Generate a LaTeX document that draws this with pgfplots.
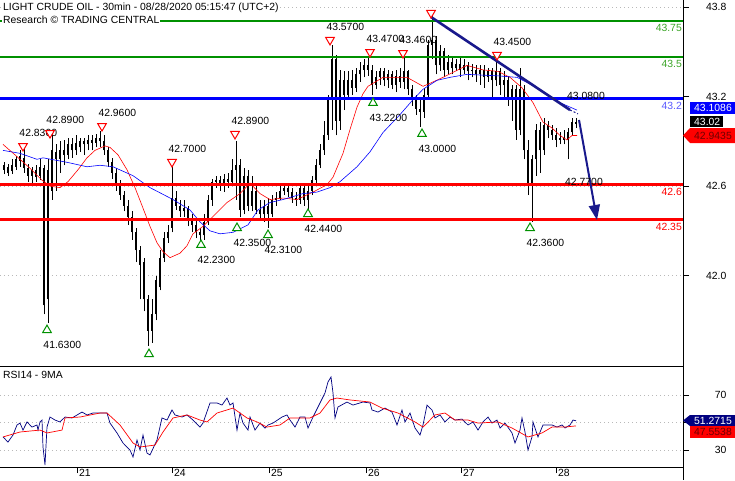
\documentclass[border=0pt]{standalone}
\usepackage{pgfplots}
\pgfplotsset{compat=1.18}
\usepackage{pgfplotstable}
\usepackage{fontspec}
\setmainfont{Liberation Sans}
\usetikzlibrary{arrows.meta}

\definecolor{lvgreen}{RGB}{0,145,0}
\definecolor{lvgreentxt}{RGB}{60,165,40}
\definecolor{lvblue}{RGB}{0,0,255}
\definecolor{lvbluetxt}{RGB}{90,90,255}
\definecolor{lvred}{RGB}{255,0,0}
\definecolor{trendnavy}{RGB}{25,25,140}
\definecolor{rsinavy}{RGB}{0,0,128}
\definecolor{gridgray}{RGB}{185,185,185}
\definecolor{darkred}{RGB}{110,0,0}

% 30min candles (every other bar), open high low close
\pgfplotstableread{
x o h l c
4 42.71 42.76 42.68 42.74
8 42.73 42.75 42.67 42.69
12 42.70 42.78 42.68 42.74
16 42.73 42.80 42.71 42.78
20 42.77 42.84 42.73 42.80
24 42.79 42.86 42.69 42.72
28 42.72 42.75 42.63 42.67
32 42.67 42.73 42.61 42.71
36 42.71 42.74 42.63 42.66
40 42.67 42.78 42.64 42.73
44 42.72 42.74 41.74 41.80
48 41.84 42.78 41.68 42.71
52 42.57 42.96 42.51 42.84
56 42.83 42.88 42.57 42.78
60 42.78 42.90 42.69 42.84
64 42.84 42.91 42.74 42.81
68 42.81 42.92 42.78 42.88
72 42.88 42.92 42.79 42.84
76 42.84 42.94 42.81 42.89
80 42.86 42.92 42.83 42.90
84 42.90 42.92 42.81 42.88
88 42.88 42.94 42.84 42.91
92 42.91 42.94 42.84 42.89
96 42.89 42.95 42.86 42.92
100 42.92 42.97 42.86 42.90
104 42.90 42.94 42.81 42.84
108 42.84 42.86 42.73 42.76
112 42.76 42.79 42.65 42.69
116 42.69 42.72 42.57 42.61
120 42.61 42.64 42.51 42.54
124 42.54 42.57 42.43 42.47
128 42.47 42.51 42.34 42.39
132 42.39 42.43 42.24 42.29
136 42.29 42.32 42.09 42.17
140 42.17 42.20 41.84 42.07
144 42.09 42.12 41.76 41.84
148 41.84 41.87 41.53 41.63
152 41.63 41.84 41.55 41.74
156 41.74 42.00 41.70 41.97
160 41.92 42.17 41.90 42.12
164 42.12 42.29 42.09 42.25
168 42.25 42.34 42.22 42.29
172 42.32 42.76 42.29 42.52
176 42.52 42.57 42.44 42.47
180 42.47 42.51 42.39 42.43
184 42.43 42.51 42.39 42.45
188 42.45 42.47 42.33 42.37
192 42.37 42.41 42.29 42.34
196 42.34 42.37 42.25 42.29
200 42.29 42.32 42.23 42.27
204 42.27 42.41 42.24 42.36
208 42.36 42.54 42.34 42.51
212 42.51 42.65 42.47 42.63
216 42.63 42.67 42.59 42.64
220 42.64 42.67 42.57 42.61
224 42.61 42.68 42.56 42.65
228 42.65 42.69 42.59 42.63
232 42.63 42.78 42.60 42.71
236 42.71 42.90 42.51 42.74
240 42.74 42.78 42.39 42.44
244 42.44 42.72 42.41 42.67
248 42.67 42.71 42.43 42.47
252 42.47 42.67 42.43 42.57
256 42.57 42.61 42.41 42.44
260 42.44 42.51 42.37 42.41
264 42.41 42.51 42.36 42.47
268 42.47 42.52 42.32 42.41
272 42.41 42.54 42.39 42.51
276 42.51 42.56 42.47 42.52
280 42.52 42.60 42.51 42.57
284 42.57 42.61 42.54 42.59
288 42.59 42.61 42.53 42.56
292 42.56 42.59 42.49 42.52
296 42.52 42.56 42.47 42.51
300 42.51 42.61 42.48 42.59
304 42.59 42.61 42.47 42.51
308 42.51 42.61 42.44 42.57
312 42.57 42.67 42.54 42.64
316 42.64 42.78 42.61 42.74
320 42.74 42.88 42.72 42.84
324 42.84 43.04 42.81 42.94
328 42.94 43.21 42.91 43.18
332 43.18 43.55 42.98 43.45
336 43.45 43.48 42.94 43.04
340 43.04 43.38 42.98 43.31
344 43.31 43.37 43.11 43.21
348 43.21 43.37 43.18 43.31
352 43.31 43.38 43.21 43.26
356 43.26 43.39 43.23 43.35
360 43.35 43.43 43.30 43.38
364 43.38 43.45 43.33 43.41
368 43.41 43.47 43.34 43.38
372 43.38 43.41 43.21 43.28
376 43.28 43.37 43.25 43.33
380 43.33 43.39 43.28 43.37
384 43.37 43.39 43.27 43.31
388 43.31 43.38 43.26 43.35
392 43.35 43.37 43.25 43.28
396 43.28 43.38 43.23 43.34
400 43.34 43.39 43.26 43.30
404 43.30 43.46 43.25 43.37
408 43.37 43.38 43.21 43.25
412 43.25 43.28 43.14 43.18
416 43.18 43.21 43.08 43.12
420 43.12 43.18 43.00 43.10
424 43.10 43.26 43.06 43.21
428 43.21 43.58 43.18 43.55
432 43.55 43.74 43.45 43.58
436 43.58 43.61 43.35 43.41
440 43.41 43.55 43.37 43.51
444 43.51 43.53 43.33 43.38
448 43.38 43.48 43.35 43.43
452 43.43 43.46 43.35 43.39
456 43.39 43.45 43.37 43.42
460 43.42 43.46 43.33 43.38
464 43.38 43.45 43.35 43.41
468 43.41 43.43 43.31 43.37
472 43.37 43.42 43.33 43.38
476 43.38 43.41 43.30 43.35
480 43.35 43.41 43.28 43.38
484 43.38 43.41 43.26 43.33
488 43.33 43.39 43.30 43.37
492 43.37 43.39 43.18 43.31
496 43.31 43.45 43.27 43.37
500 43.37 43.39 43.21 43.28
504 43.28 43.37 43.18 43.31
508 43.31 43.34 43.14 43.18
512 43.18 43.28 43.04 43.25
516 43.25 43.28 42.91 42.98
520 42.98 43.39 42.94 43.25
524 43.25 43.28 42.78 42.84
528 42.84 42.91 42.54 42.61
532 42.61 42.81 42.36 42.78
536 42.78 43.02 42.67 42.98
540 42.98 43.03 42.69 42.84
544 42.84 43.06 42.81 43.01
548 43.01 43.04 42.92 42.98
552 42.98 43.01 42.91 42.94
556 42.94 42.99 42.86 42.91
560 42.91 42.96 42.88 42.92
564 42.92 42.98 42.88 42.91
568 42.91 42.99 42.78 42.96
572 42.96 43.06 42.94 43.03
576 43.03 43.06 42.99 43.02
}\candles

\begin{document}
\fontsize{10.4}{12.5}\selectfont
\begin{tikzpicture}[x=1pt,y=-1pt]
\path[use as bounding box] (0,0) rectangle (735,480);

% ---------- price panel ----------
\begin{axis}[
  at={(0pt,0pt)}, anchor=north west,
  width=683pt, height=366pt, scale only axis,
  xmin=0, xmax=683, ymin=41.393, ymax=43.849,
  axis x line*=bottom, axis y line*=right,
  axis line style={black, line width=0.8pt},
  xtick=\empty,
  ytick={42.0,42.6,43.2,43.8}, yticklabels={42.0,42.6,43.2,43.8},
  tick align=outside, major tick length=6pt,
  tick style={black, line width=0.8pt},
  yticklabel style={anchor=east, xshift=41pt},
  ymajorgrids, grid style={gridgray, dash pattern=on 1pt off 3pt},
]
% candle wicks
\addplot[draw=none, mark=none, forget plot,
  error bars/.cd, y dir=plus, y explicit, error mark=none,
  error bar style={draw=black, line width=0.7pt}]
  table[x=x, y=l, y error plus expr={\thisrow{h}-\thisrow{l}}] {\candles};
% candle bodies
\addplot[draw=none, mark=none, forget plot,
  error bars/.cd, y dir=plus, y explicit, error mark=none,
  error bar style={draw=black, line width=2.8pt}]
  table[x=x, y expr={min(\thisrow{o},\thisrow{c})},
        y error plus expr={max(abs(\thisrow{o}-\thisrow{c}),0.006)}] {\candles};

% moving averages
\addplot[lvred, line width=0.6pt] coordinates {
(3,42.88) (15,42.81) (30,42.72) (42,42.64) (50,42.60) (60,42.59) (68,42.63)
(78,42.71) (87,42.79) (95,42.84) (105,42.87) (110,42.86) (118,42.81) (127,42.71)
(135,42.59) (142,42.47) (150,42.33) (157,42.22) (163,42.16) (170,42.12) (180,42.15)
(187,42.20) (193,42.28) (203,42.33) (215,42.41) (227,42.49) (240,42.55) (250,42.62)
(260,42.55) (270,42.51) (283,42.52) (297,42.51) (313,42.56) (327,42.61) (333,42.66)
(343,42.82) (350,42.98) (357,43.13) (363,43.22) (368,43.27) (383,43.33) (407,43.33)
(423,43.27) (430,43.29) (443,43.33) (455,43.37) (467,43.41) (483,43.38) (498,43.37)
(510,43.33) (522,43.26) (533,43.16) (543,43.03) (552,42.99) (560,42.94) (567,42.91)
(572,42.94) (577,42.94)};
\addplot[lvblue, line width=0.6pt] coordinates {
(3,42.84) (20,42.82) (37,42.78) (43,42.79) (67,42.76) (87,42.73) (100,42.74)
(113,42.73) (133,42.67) (150,42.59) (173,42.51) (190,42.44) (200,42.36) (210,42.30)
(220,42.28) (233,42.29) (248,42.34) (258,42.44) (270,42.49) (283,42.51) (303,42.55)
(317,42.56) (330,42.59) (340,42.63) (357,42.73) (370,42.83) (383,42.96) (400,43.08)
(413,43.18) (423,43.25) (437,43.31) (450,43.33) (467,43.35) (498,43.34) (517,43.33)
(540,43.25) (560,43.16) (577,43.11)};

% support / resistance levels
\addplot[lvgreen, line width=2.4pt] coordinates {(0,43.71) (683,43.71)};
\addplot[lvgreen, line width=2.4pt] coordinates {(0,43.468) (683,43.468)};
\addplot[lvblue, line width=2.4pt] coordinates {(0,43.187) (683,43.187)};
\addplot[lvred, line width=2.4pt] coordinates {(0,42.612) (683,42.612)};
\addplot[lvred, line width=2.4pt] coordinates {(0,42.377) (683,42.377)};

% trend line and target arrow
\addplot[trendnavy, line width=2.6pt] coordinates {(431,43.735) (570,43.111)};
\addplot[trendnavy, line width=1pt, dash pattern=on 2pt off 2pt] coordinates {(570,43.111) (578,43.085)};
\addplot[trendnavy, line width=2pt, -{Triangle[length=15pt,width=11pt]}] coordinates {(579,43.044) (597,42.373)};

% swing highs
\addplot[only marks, mark=triangle*, mark size=5pt,
  mark options={draw=lvred, fill=white, line width=1pt, rotate=180},
  nodes near coords, point meta=explicit symbolic,
  every node near coord/.append style={anchor=west, inner sep=0pt, xshift=-4pt, yshift=13pt, text=black}]
  coordinates {
  (23,42.869) [42.8300] (50,42.956) [42.8900] (102,43.003) [42.9600]
  (172,42.762) [42.7000] (235,42.950) [42.8900] (330,43.581) [43.5700]
  (370,43.500) [43.4700] (403,43.493) [43.4600] (497,43.480) [43.4500]};
\addplot[only marks, mark=triangle*, mark size=5pt,
  mark options={draw=lvred, fill=white, line width=1pt, rotate=180}]
  coordinates {(431,43.762)};
% swing lows
\addplot[only marks, mark=triangle*, mark size=5pt,
  mark options={draw=lvgreen, fill=white, line width=1pt},
  nodes near coords, point meta=explicit symbolic,
  every node near coord/.append style={anchor=west, inner sep=0pt, xshift=-4pt, yshift=-15pt, text=black}]
  coordinates {
  (47,41.634) [41.6300] (201,42.205) [42.2300] (237,42.319) [42.3500]
  (268,42.272) [42.3100] (308,42.413) [42.4400] (373,43.158) [43.2200]
  (422,42.950) [43.0000] (530,42.319) [42.3600]};
\addplot[only marks, mark=triangle*, mark size=5pt,
  mark options={draw=lvgreen, fill=white, line width=1pt}]
  coordinates {(149,41.473)};
\node[anchor=west, inner sep=0pt] at (axis cs:567,43.205) {43.0800};
\node[anchor=west, inner sep=0pt] at (axis cs:565,42.628) {42.7700};
\end{axis}

% ---------- RSI panel ----------
\begin{axis}[
  at={(0pt,-366pt)}, anchor=north west,
  width=683pt, height=101pt, scale only axis,
  xmin=0, xmax=683, ymin=17.64, ymax=91.09,
  axis x line*=bottom, axis y line*=right,
  axis line style={black, line width=0.8pt},
  xtick={77,172,269,366,461,556}, xticklabels={21,24,25,26,27,28},
  xticklabel style={anchor=north west, inner sep=0pt, xshift=2pt, yshift=4pt},
  ytick={30,50,70}, yticklabels={30,{},70},
  tick align=outside, major tick length=6pt,
  tick style={black, line width=0.8pt},
  yticklabel style={anchor=east, xshift=41pt},
  ymajorgrids, grid style={gridgray, dash pattern=on 1pt off 3pt},
]
\addplot[rsinavy, line width=0.7pt] coordinates {
(3,39.5) (8,35.8) (13,40.9) (17,48.2) (20,49.6) (23,44.5) (27,50.4) (32,46.7)
(37,48.2) (38,44.5) (40,50.4) (42,51.8) (43,32.2) (45,19.1) (47,46.7) (50,54.0)
(55,51.8) (60,50.4) (65,54.0) (72,53.3) (82,57.6) (87,55.5) (93,56.9) (103,56.9)
(107,56.9) (110,49.6) (117,42.4) (123,35.1) (130,30.0) (133,24.9) (137,37.3)
(140,30.0) (143,40.9) (147,27.8) (150,26.4) (157,37.3) (162,53.3) (167,51.8)
(172,59.1) (175,55.5) (182,54.0) (187,55.5) (193,51.8) (200,46.7) (203,49.6)
(210,64.2) (217,64.2) (222,62.7) (227,67.8) (230,62.7) (233,64.2) (237,44.5)
(240,56.9) (243,49.6) (248,44.5) (250,54.0) (255,44.5) (260,49.6) (265,46.0)
(268,48.2) (273,49.6) (282,54.0) (287,55.5) (290,51.8) (295,46.7) (300,54.0)
(305,54.0) (308,46.0) (313,54.0) (320,64.2) (325,71.5) (328,79.5) (331,83.1)
(333,71.5) (335,53.3) (338,61.3) (347,64.9) (353,62.7) (363,64.9) (370,64.2)
(372,59.1) (378,57.6) (385,60.5) (392,57.6) (397,48.2) (402,59.1) (405,50.4)
(410,56.9) (415,46.0) (420,40.9) (423,48.2) (427,62.7) (432,59.1) (435,53.3)
(440,55.5) (445,50.4) (450,54.0) (455,51.8) (462,52.5) (468,48.2) (473,50.4)
(478,44.5) (483,50.4) (488,54.0) (492,49.6) (497,51.8) (500,46.0) (505,49.6)
(512,42.4) (515,35.1) (520,44.5) (522,53.3) (525,43.1) (528,30.0) (532,39.5)
(533,50.4) (538,39.5) (543,48.2) (552,48.2) (557,46.7) (562,48.2) (565,46.0)
(570,48.2) (573,51.8) (576,51.27)};
\addplot[lvred, line width=0.7pt] coordinates {
(3,39.5) (20,43.1) (40,44.5) (47,42.4) (62,44.5) (65,53.3) (80,54.0) (100,56.9)
(107,56.9) (120,48.2) (133,35.1) (140,32.2) (155,33.6) (163,43.1) (173,53.3)
(187,55.5) (200,51.8) (207,50.4) (217,56.9) (233,60.5) (247,53.3) (257,50.4)
(267,46.7) (280,48.2) (290,53.3) (310,53.3) (320,56.9) (330,66.4) (337,67.8)
(350,66.4) (370,64.9) (382,60.5) (398,56.9) (415,50.4) (423,46.7) (435,55.5)
(445,56.9) (455,51.8) (468,51.8) (478,49.6) (498,50.4) (512,46.0) (528,39.5)
(542,42.4) (552,46.7) (565,46.7) (576,47.55)};
\end{axis}

% right border runs to the bottom edge
\draw[black, line width=0.8pt] (683,467) -- (683,480);

% titles
\node[anchor=base west, fill=white, inner sep=1pt] at (2,10.5) {LIGHT CRUDE OIL - 30min - 08/28/2020 05:15:47 (UTC+2)};
\node[anchor=base west, fill=white, inner sep=1pt] at (2,23.5) {Research © TRADING CENTRAL};
\node[anchor=west, inner sep=0pt] at (3,375) {RSI14 - 9MA};

% level labels
\node[anchor=east, inner sep=0pt, text=lvgreentxt] at (682,28) {43.75};
\node[anchor=east, inner sep=0pt, text=lvgreentxt] at (682,64) {43.5};
\node[anchor=east, inner sep=0pt, text=lvbluetxt] at (682,106) {43.2};
\node[anchor=east, inner sep=0pt, text=lvred] at (682,192) {42.6};
\node[anchor=east, inner sep=0pt, text=lvred] at (682,227) {42.35};

% last-value tags
\fill[lvblue] (690,102) rectangle (735,114);
\node[anchor=west, inner sep=0pt, text=white] at (694,108) {43.1086};
\fill[black] (690,116) rectangle (723,127);
\node[anchor=west, inner sep=0pt, text=white] at (694,121.5) {43.02};
\fill[lvred] (683,135.5) -- (690,128) -- (735,128) -- (735,143) -- (690,143) -- cycle;
\node[anchor=west, inner sep=0pt, text=darkred] at (694,135.5) {42.9435};
\fill[rsinavy] (683,420.5) -- (690,415) -- (735,415) -- (735,426) -- (690,426) -- cycle;
\node[anchor=west, inner sep=0pt, text=white] at (694,420.5) {51.2715};
\fill[lvred] (690,426) rectangle (735,438);
\node[anchor=west, inner sep=0pt, text=darkred] at (694,432) {47.5538};
\end{tikzpicture}
\end{document}
